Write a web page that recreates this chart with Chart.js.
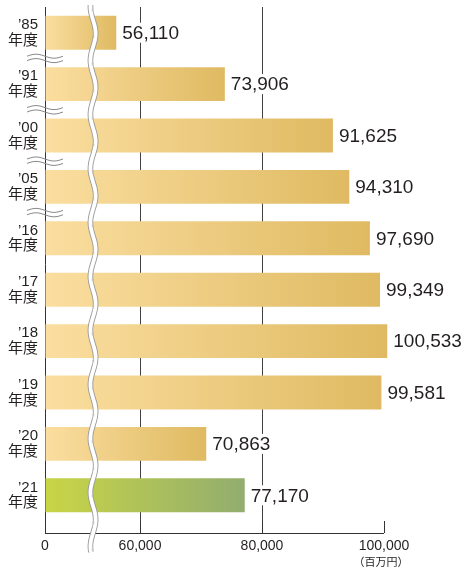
<!DOCTYPE html>
<html>
<head>
<meta charset="utf-8">
<script src="https://cdn.jsdelivr.net/npm/chart.js@4/dist/chart.umd.min.js"></script>
<style>
  html, body { margin: 0; padding: 0; background: #fff; }
  #wrap { width: 467px; height: 569px; }
</style>
</head>
<body>
<div id="wrap"><canvas id="sales-chart"></canvas></div>
<script>
// fiscal years (categories) and sales in million yen
const yearLabels = ['’85', '’91', '’00', '’05', '’16', '’17', '’18', '’19', '’20', '’21'];
const fiscalYears = [1985, 1991, 2000, 2005, 2016, 2017, 2018, 2019, 2020, 2021];
const sales = [56110, 73906, 91625, 94310, 97690, 99349, 100533, 99581, 70863, 77170];

// broken axis: the left edge stands for "0"
const axisStart = 44426;
const axisBreak = 52300;
const xTicks = [axisStart, 60000, 80000, 100000];
const unitLabel = '（百万円）';

const goldGrad = ['#fbdea0', '#dfba62'];
const greenGrad = ['#c9d546', '#92ad6f'];
const textColor = '#231f20';
const numFont = '"Liberation Sans", Arial, sans-serif';
const jpFont = '"Liberation Sans", "Noto Sans CJK JP", sans-serif';

function barFill(c) {
    const chart = c.chart;
    const area = chart.chartArea;
    const colors = c.dataIndex === sales.length - 1 ? greenGrad : goldGrad;
    if (!area || !chart.scales.x) return colors[1];
    const end = chart.scales.x.getPixelForValue(sales[c.dataIndex]);
    const g = chart.ctx.createLinearGradient(area.left, 0, end, 0);
    g.addColorStop(0, colors[0]);
    g.addColorStop(1, colors[1]);
    return g;
}

const breakPlugin = {
    id: 'breaks',
    afterDraw(chart) {
        const ctx = chart.ctx;
        const area = chart.chartArea;
        const x = chart.scales.x;
        const y = chart.scales.y;
        const axisY = area.bottom + 12;
        ctx.save();

        // bottom axis line
        ctx.strokeStyle = '#333';
        ctx.lineWidth = 1;
        ctx.beginPath();
        ctx.moveTo(area.left, axisY + 0.5);
        ctx.lineTo(area.right, axisY + 0.5);
        ctx.stroke();

        // tilde marks where years are skipped
        ctx.strokeStyle = '#8a8a8a';
        ctx.lineWidth = 1;
        for (let i = 0; i < fiscalYears.length - 1; i++) {
            if (fiscalYears[i + 1] - fiscalYears[i] <= 1) continue;
            const yc = (y.getPixelForValue(i) + y.getPixelForValue(i + 1)) / 2;
            [-2.2, 2.2].forEach(off => {
                ctx.beginPath();
                for (let t = 0; t <= 36; t++) {
                    const px = area.left - 18 + t;
                    const py = yc + off - 2 * Math.sin(Math.PI * 2 * t / 36);
                    t ? ctx.lineTo(px, py) : ctx.moveTo(px, py);
                }
                ctx.stroke();
            });
        }

        // wavy axis break
        const bx = x.getPixelForValue(axisBreak);
        const wave = () => {
            ctx.beginPath();
            for (let py = area.top - 2; py <= 552; py += 1) {
                const px = bx + 2.6 * Math.sin(Math.PI * 2 * (py - 20) / 54);
                py === area.top - 2 ? ctx.moveTo(px, py) : ctx.lineTo(px, py);
            }
            ctx.stroke();
        };
        ctx.strokeStyle = '#9a9a9a';
        ctx.lineWidth = 5.6;
        wave();
        ctx.strokeStyle = '#ffffff';
        ctx.lineWidth = 3.8;
        wave();

        // value labels
        ctx.font = '19px ' + numFont;
        ctx.textBaseline = 'middle';
        ctx.textAlign = 'left';
        const meta = chart.getDatasetMeta(0);
        meta.data.forEach((bar, i) => {
            const txt = sales[i].toLocaleString('en-US');
            const tx = bar.x + 6;
            const w = ctx.measureText(txt).width;
            ctx.fillStyle = '#fff';
            ctx.fillRect(tx - 1, bar.y - 10, w + 2, 20);
            ctx.fillStyle = textColor;
            ctx.fillText(txt, tx, bar.y + 1);
        });

        // unit
        ctx.font = '11px ' + jpFont;
        ctx.textAlign = 'center';
        ctx.fillText(unitLabel, x.getPixelForValue(100000) - 3, 563);
        ctx.restore();
    }
};

function initChart() {
    const el = document.getElementById('sales-chart');
    new Chart(el, {
        type: 'bar',
        data: {
            labels: yearLabels.map(l => [l, '年度']),
            datasets: [{
                data: sales,
                base: axisStart,
                backgroundColor: barFill,
                borderWidth: 0,
                categoryPercentage: 1,
                barPercentage: 0.66,
                clip: false
            }]
        },
        options: {
            indexAxis: 'y',
            responsive: true,
            maintainAspectRatio: false,
            animation: false,
            layout: { padding: { top: 7, right: 83, bottom: 0, left: 0 } },
            plugins: { legend: { display: false }, tooltip: { enabled: false } },
            scales: {
                x: {
                    type: 'linear',
                    min: axisStart,
                    max: 100000,
                    z: 1,
                    afterBuildTicks: s => { s.ticks = xTicks.map(v => ({ value: v })); },
                    afterFit: s => { s.height = 48; },
                    border: { display: false },
                    grid: {
                        color: c => (c.tick && (c.tick.value === 60000 || c.tick.value === 80000)) ? 'rgba(35,31,32,0.85)' : 'rgba(0,0,0,0)',
                        tickColor: '#333',
                        tickLength: 12,
                        lineWidth: 1
                    },
                    ticks: {
                        autoSkip: false,
                        maxRotation: 0,
                        padding: 5,
                        color: textColor,
                        font: { family: numFont, size: 14 },
                        callback: v => v === axisStart ? '0' : v.toLocaleString('en-US')
                    }
                },
                y: {
                    afterFit: s => { s.width = 45; s.paddingTop = 0; s.paddingBottom = 0; },
                    grid: { display: false, drawTicks: false },
                    border: { display: true, color: '#333', width: 1 },
                    ticks: {
                        padding: 7,
                        color: textColor,
                        font: { family: jpFont, size: 15, lineHeight: 1.05 }
                    }
                }
            }
        },
        plugins: [breakPlugin]
    });
}

document.addEventListener('DOMContentLoaded', initChart);
</script>
</body>
</html>
